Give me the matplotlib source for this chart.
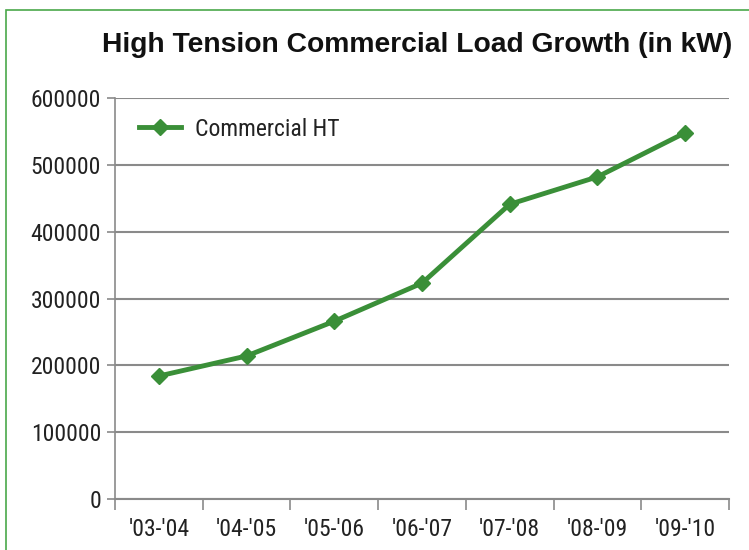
import matplotlib
matplotlib.use("Agg")
import matplotlib.pyplot as plt
from matplotlib.patches import Rectangle
from matplotlib import font_manager

years = ["'03-'04", "'04-'05", "'05-'06", "'06-'07", "'07-'08", "'08-'09", "'09-'10"]
load_kw = [184000, 214000, 266000, 323000, 441000, 482000, 548000]
series_name = "Commercial HT"
title = "High Tension Commercial Load Growth (in kW)"

installed = {f.name for f in font_manager.fontManager.ttflist}


def pick(cands):
    for c in cands:
        if c in installed:
            return c
    return "DejaVu Sans"


narrow = pick(["Roboto Condensed", "Archivo Narrow", "PT Sans Narrow", "Barlow Condensed", "Liberation Sans Narrow"])
arial = pick(["Arimo", "Liberation Sans", "Roboto"])

lab = font_manager.FontProperties(family=[narrow, "DejaVu Sans"], size=17)
ttl = font_manager.FontProperties(family=[arial, "DejaVu Sans"], weight="bold", stretch="normal", size=20.3)

green = "#3a8f38"
grid = "#8a8a8a"

fig = plt.figure(figsize=(7.49, 5.5), dpi=100)
W, H = 749, 550
ax = fig.add_axes([115 / W, (H - 499) / H, (729 - 115) / W, (499 - 98) / H])

x = range(len(years))
ax.plot(x, load_kw, color=green, lw=3.5, marker="D", ms=8, label=series_name)

ax.set_xlim(-0.5, len(years) - 0.5)
ax.set_ylim(0, 600000)
ax.set_yticks(range(0, 600001, 100000))
ax.set_yticklabels([str(v) for v in range(0, 600001, 100000)], fontproperties=lab)
ax.set_xticks(list(x))
ax.set_xticklabels(years, fontproperties=lab)
ax.set_xticks([i - 0.5 for i in range(len(years) + 1)], minor=True)
ax.tick_params(axis="x", which="major", length=0, pad=14, colors="#222222")
ax.tick_params(axis="x", which="minor", length=8, width=1.2, color=grid, direction="out")
ax.tick_params(axis="y", length=6, width=1.2, color=grid, labelcolor="#222222", pad=4)

ax.grid(axis="y", color=grid, lw=1.5)
ax.set_axisbelow(True)
for s in ["top", "right"]:
    ax.spines[s].set_visible(False)
ax.spines["left"].set_color(grid)
ax.spines["left"].set_linewidth(1.2)
ax.spines["bottom"].set_color(grid)
ax.spines["bottom"].set_linewidth(1.5)

leg = ax.legend(loc="upper left", frameon=False, prop=lab, handlelength=1.8, handletextpad=0.6,
                bbox_to_anchor=(0.0, 1.01), borderaxespad=0.6)
for t in leg.get_texts():
    t.set_color("#222222")

fig.text(0.557, 1 - 45 / H, title, ha="center", va="center",
         fontproperties=ttl, color="#111111")

fig.patches.append(Rectangle((6 / W, -0.1), 1.2, 1 - 10 / H + 0.1, transform=fig.transFigure,
                             fill=False, edgecolor="#4aa84a", lw=1.2))

fig.savefig("out.png", dpi=100)
